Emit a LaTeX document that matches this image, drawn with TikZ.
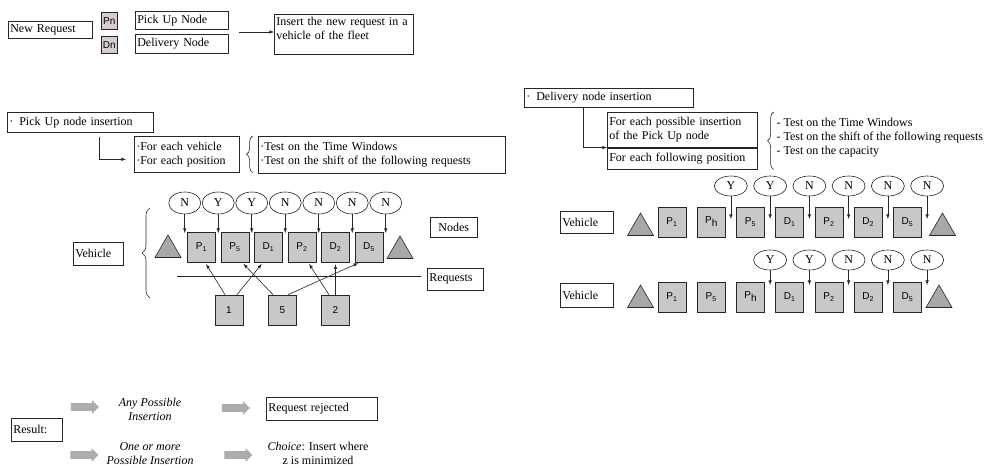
\documentclass[tikz,border=0pt]{standalone}
\usepackage{fontspec}
\setmainfont{Liberation Serif}
\setsansfont{Liberation Sans}
\usepackage{tikz}
\usetikzlibrary{arrows}
\usetikzlibrary{shapes.geometric}
\usetikzlibrary{shapes.arrows}
\usetikzlibrary{decorations.pathreplacing}
\definecolor{boxgray}{RGB}{200,200,200}
\definecolor{trigray}{RGB}{168,168,168}
\definecolor{pnpink}{RGB}{214,204,206}
\definecolor{fatgray}{RGB}{172,172,172}
\tikzset{basic/.style={draw=black!85,line width=0.6pt,inner sep=2pt}}
\tikzset{textbox/.style={basic,align=left,anchor=north west,
                         font=\fontsize{12}{14}\selectfont}}
\def\pstep{33.5}
\def\dstep{39.25}

\begin{document}
\begin{tikzpicture}[x=1pt,y=-1pt,>=latex,line width=0.6pt,draw=black!85]
    \tikzstyle{cell}=[basic,fill=boxgray,minimum width=28pt,minimum height=30pt,
                      inner sep=0pt,font=\sffamily\fontsize{10}{12}\selectfont]
    \tikzstyle{tri}=[basic,fill=trigray,regular polygon,regular polygon sides=3,
                     minimum size=30pt,inner sep=0pt]
    \tikzstyle{answer}=[basic,ellipse,minimum width=32pt,minimum height=22pt,
                        inner sep=0pt,font=\fontsize{12}{14}\selectfont]
    \tikzstyle{fat}=[single arrow,fill=fatgray,minimum height=28pt,inner xsep=0pt,
                     inner ysep=3.5pt,single arrow head extend=3pt]
    \tikzstyle{brace}=[decorate,decoration={brace,amplitude=6pt}]
    \tikzstyle{plain}=[align=center,font=\fontsize{12}{14}\selectfont]

    \useasboundingbox[fill=white] (0,0) rectangle (989,468);

    % The new request
    \node[textbox,text width=80pt,minimum height=17pt] (newreq) at (8,21) {New Request};
    \node[basic,fill=pnpink,anchor=north west,minimum width=16pt,minimum height=17pt,
          inner sep=0pt,font=\sffamily\fontsize{10}{12}\selectfont] (pn) at (101,12) {Pn};
    \node[basic,fill=pnpink,anchor=north west,minimum width=16pt,minimum height=17pt,
          inner sep=0pt,font=\sffamily\fontsize{10}{12}\selectfont] (dn) at (101,36) {Dn};
    \node[textbox,text width=89pt,minimum height=18pt] (pickup) at (135,11) {Pick Up Node};
    \node[textbox,text width=89pt,minimum height=19pt] (delivery) at (135,34) {Delivery Node};
    \node[textbox,text width=135pt,minimum height=40pt] (insert) at (274,14)
        {Insert the new request in a\\vehicle of the fleet\\[-2pt]\mbox{}};
    \coordinate (go) at (239,32);
    \draw[->] (go) -- (go -| insert.west);

    % Pick up node insertion
    \node[textbox,text width=142pt,minimum height=20pt] (pinsert) at (7,112)
        {·\enspace Pick Up node insertion};
    \node[textbox,text width=101pt,minimum height=36pt] (peach) at (134,136)
        {·For each vehicle\\·For each position};
    \coordinate (pbend) at (99,137);
    \draw[->] (pbend) |- ([xshift=-8pt,yshift=-5pt]peach.west);
    \draw[brace] ([xshift=13pt]peach.south east) -- ([xshift=13pt]peach.north east);
    \node[textbox,text width=243pt,minimum height=37pt] (ptest) at (258,136)
        {·Test on the Time Windows\\·Test on the shift of the following requests};

    % Draw the route of the vehicle
    \foreach \lab [count=\i] in {{P\textsubscript{1}},{P\textsubscript{5}},{D\textsubscript{1}},
                                 {P\textsubscript{2}},{D\textsubscript{2}},{D\textsubscript{5}}}
        \node[cell] (c-\i) at ({168+\i*\pstep},247) {\lab};
    \node[tri] (pstart) at (168,250) {};
    \node[tri] (pend) at (400,251) {};

    % Insertion positions
    \coordinate (ptip) at (0,233);
    \foreach \ans [count=\i] in {N,Y,Y,N,N,N,N} {
        \node[answer] (pa-\i) at ({151.25+\i*\pstep},203) {\ans};
        \draw[->] (pa-\i) -- (pa-\i |- ptip);
    }

    % Requests and their nodes
    \coordinate (sepL) at (177,276);
    \coordinate (sepR) at (421,276);
    \draw (sepL) -- (sepR);
    \foreach \r / \x in {1/229,5/282.5,2/335.5}
        \node[cell] (r-\r) at (\x,310) {\r};
    \draw[->,shorten >=2pt] ([xshift=-4pt]r-1.north) -- ([xshift=3.5pt]c-1.south);
    \draw[->,shorten >=2pt] ([xshift=8pt]r-1.north) -- ([xshift=-5.5pt]c-3.south);
    \draw[->,shorten >=2pt] ([xshift=-9.5pt]r-5.north) -- ([xshift=7pt]c-2.south);
    \draw[->,shorten >=2pt] ([xshift=5.5pt]r-5.north) -- ([xshift=-9pt]c-6.south);
    \draw[->,shorten >=2pt] ([xshift=-6.5pt]r-2.north) -- ([xshift=6pt]c-4.south);
    \draw[->,shorten >=2pt] (r-2.north) -- (c-5.south);

    % Annotate
    \node[textbox,text width=46pt,minimum height=23pt] (pveh) at (73,242) {Vehicle};
    \coordinate (pbrtop) at (150,208);
    \coordinate (pbrbot) at (150,298);
    \draw[brace,decoration={amplitude=8pt}] (pbrbot) -- (pbrtop);
    \node[textbox,align=center,text width=43pt,minimum height=20pt] (nodes) at (430,217) {Nodes};
    \node[textbox,text width=52pt,minimum height=22pt] (requests) at (427,268) {Requests};

    % Delivery node insertion
    \node[textbox,text width=165pt,minimum height=19pt] (dinsert) at (524,88)
        {·\enspace Delivery node insertion};
    \node[textbox,text width=146pt,minimum height=35pt] (dposs) at (607,112)
        {For each possible insertion\\of the Pick Up node};
    \node[textbox,text width=146pt,minimum height=21pt] (dfoll) at (607,148)
        {For each following position};
    \coordinate (dbend) at (583,107);
    \draw[->] (dbend) |- (dposs.south west);
    \draw[brace] ([xshift=16pt]dfoll.south east) -- ([xshift=16pt]dposs.north east);
    \node[anchor=north west,align=left,font=\fontsize{12}{14}\selectfont] (dtest) at (773,115)
        {- Test on the Time Windows\\- Test on the shift of the following requests\\- Test on the capacity};

    % First route: pick up after P1
    \node[textbox,text width=49pt,minimum height=22pt] (veh1) at (560,211) {Vehicle};
    \node[tri] (s1) at (640.5,228) {};
    \node[tri] (e1) at (942.5,228) {};
    \foreach \lab [count=\i] in {{P\textsubscript{1}},{P\raisebox{-3pt}{h}},{P\textsubscript{5}},
                                 {D\textsubscript{1}},{P\textsubscript{2}},{D\textsubscript{2}},{D\textsubscript{5}}}
        \node[cell] (a-\i) at ({632.75+\i*\dstep},222) {\lab};
    \coordinate (dtip1) at (0,219);
    \foreach \ans [count=\i from 2] in {Y,Y,N,N,N,N} {
        \node[answer,minimum width=33pt,minimum height=20pt] (da-\i) at ({652.375+\i*\dstep},186) {\ans};
        \draw[->] (da-\i) -- (da-\i |- dtip1);
    }

    % Second route: pick up after P5
    \node[textbox,text width=49pt,minimum height=24pt] (veh2) at (560,283) {Vehicle};
    \node[tri] (s2) at (640.5,300) {};
    \node[tri] (e2) at (939,300) {};
    \foreach \lab [count=\i] in {{P\textsubscript{1}},{P\textsubscript{5}},{P\raisebox{-3pt}{h}},
                                 {D\textsubscript{1}},{P\textsubscript{2}},{D\textsubscript{2}},{D\textsubscript{5}}}
        \node[cell] (b-\i) at ({632.75+\i*\dstep},297) {\lab};
    \coordinate (dtip2) at (0,285);
    \foreach \ans [count=\i from 3] in {Y,Y,N,N,N} {
        \node[answer,minimum width=33pt,minimum height=20pt] (db-\i) at ({652.375+\i*\dstep},260) {\ans};
        \draw[->] (db-\i) -- (db-\i |- dtip2);
    }

    % Result
    \node[textbox,text width=47pt,minimum height=23pt] (result) at (11,418) {Result:};
    \node[fat] (f1) at (83,407) {};
    \node[fat] (f2) at (234,408) {};
    \node[fat] (f3) at (82.5,455) {};
    \node[fat] (f4) at (236.5,455) {};
    \node[plain,font=\itshape\fontsize{12}{14}\selectfont] (anyins) at (150,409) {Any Possible\\Insertion};
    \node[plain,font=\itshape\fontsize{12}{14}\selectfont] (oneins) at (150,453.5) {One or more\\Possible Insertion};
    \node[textbox,text width=107pt,minimum height=23pt] (rejected) at (266,397) {Request rejected};
    \node[plain] (choice) at (318,453.5) {\textit{Choice}: Insert where\\z is minimized};
\end{tikzpicture}
\end{document}
